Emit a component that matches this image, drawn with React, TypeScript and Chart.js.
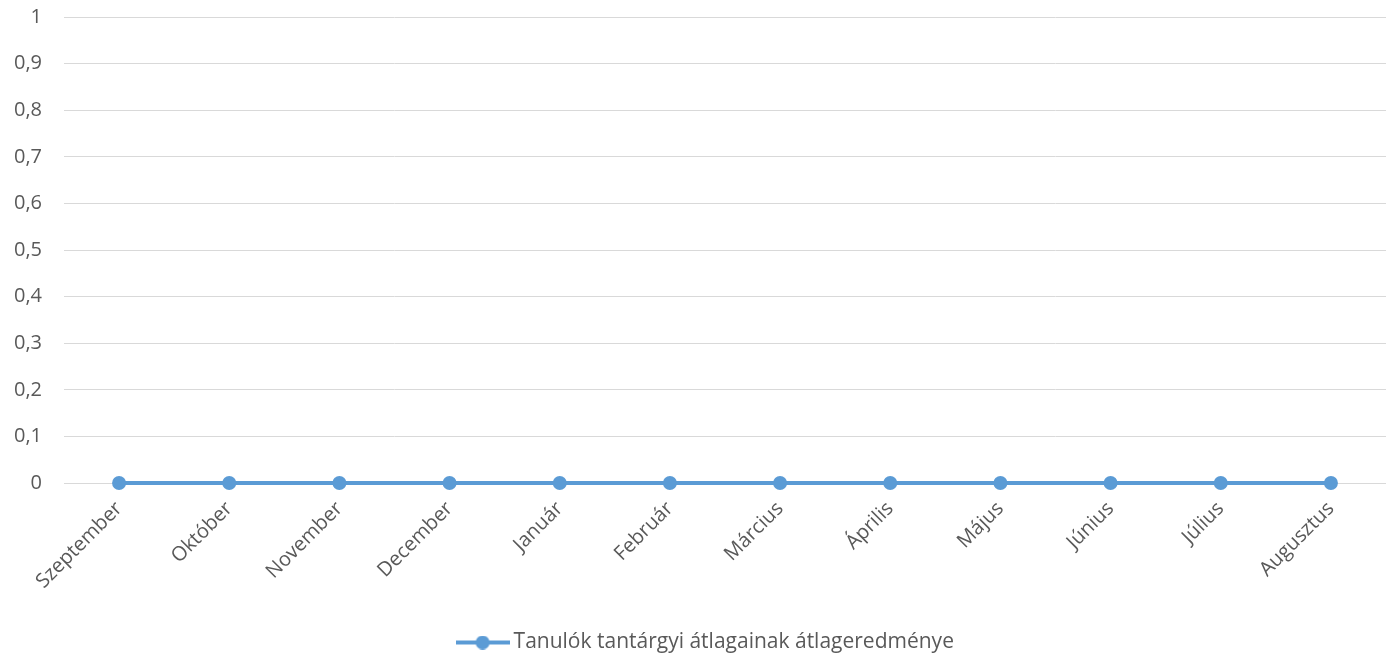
import React, { useEffect, useRef } from "react";
import { Chart, registerables } from "chart.js";

Chart.register(...registerables);

const months = [
  "Szeptember",
  "Október",
  "November",
  "December",
  "Január",
  "Február",
  "Március",
  "Április",
  "Május",
  "Június",
  "Július",
  "Augusztus",
];
const averages = [0, 0, 0, 0, 0, 0, 0, 0, 0, 0, 0, 0];
const seriesName = "Tanulók tantárgyi átlagainak átlageredménye";
const yMin = 0;
const yMax = 1;
const yStep = 0.1;

const LINE_COLOR = "#5B9BD5";
const TEXT_COLOR = "#595959";
const GRID_COLOR = "#D9D9D9";
const FONT = "Open Sans";
const FONT_SIZE = 20;
const LEGEND_FONT_SIZE = 21;

const ICON_BOX = 41;
const ICON_W = 54;

function makeLegendIcon(): HTMLCanvasElement {
  const c = document.createElement("canvas");
  c.width = ICON_W;
  c.height = 14;
  const ctx = c.getContext("2d")!;
  ctx.strokeStyle = LINE_COLOR;
  ctx.lineWidth = 4;
  ctx.beginPath();
  ctx.moveTo(0, 7);
  ctx.lineTo(ICON_W, 7);
  ctx.stroke();
  ctx.fillStyle = LINE_COLOR;
  ctx.beginPath();
  ctx.arc(ICON_W / 2, 7, 7, 0, Math.PI * 2);
  ctx.fill();
  return c;
}

const legendShift = {
  id: "legendShift",
  afterLayout(chart: any) {
    const l = chart.legend;
    if (l) {
      l.left += 15;
      l.right += 15;
    }
  },
};

export default function App() {
  const canvasRef = useRef<HTMLCanvasElement | null>(null);

  useEffect(() => {
    document.body.style.margin = "0";
    const canvas = canvasRef.current;
    if (!canvas) return;
    const icon = makeLegendIcon();
    const zeroPad = (scale: any) => {
      scale.paddingTop = 0;
      scale.paddingBottom = 0;
      scale.paddingLeft = 0;
      scale.paddingRight = 0;
    };
    const chart = new Chart(canvas, {
      type: "line",
      data: {
        labels: months,
        datasets: [
          {
            label: seriesName,
            data: averages,
            borderColor: LINE_COLOR,
            backgroundColor: LINE_COLOR,
            borderWidth: 4,
            pointRadius: 7,
            pointHoverRadius: 7,
            pointBackgroundColor: LINE_COLOR,
            pointBorderWidth: 0,
            pointStyle: "circle",
            tension: 0,
            clip: false,
          },
        ],
      },
      plugins: [legendShift],
      options: {
        animation: false,
        responsive: false,
        maintainAspectRatio: false,
        layout: { padding: { top: 17, right: 8, bottom: -6, left: 0 } },
        plugins: {
          tooltip: { enabled: false },
          legend: {
            position: "bottom",
            labels: {
              usePointStyle: true,
              pointStyle: icon as any,
              pointStyleWidth: ICON_BOX,
              boxHeight: 14,
              color: TEXT_COLOR,
              font: { family: FONT, size: LEGEND_FONT_SIZE },
              padding: 6,
            },
          },
        },
        scales: {
          x: {
            type: "category",
            offset: true,
            grid: { display: false, drawTicks: false },
            border: { display: false },
            ticks: {
              color: TEXT_COLOR,
              font: { family: FONT, size: FONT_SIZE },
              maxRotation: 45,
              minRotation: 45,
              autoSkip: false,
              padding: 14,
            },
            afterFit: (scale: any) => {
              scale.height = 143;
              zeroPad(scale);
            },
          },
          y: {
            min: yMin,
            max: yMax,
            grid: { color: GRID_COLOR, lineWidth: 1, drawTicks: false },
            border: { display: false },
            ticks: {
              stepSize: yStep,
              color: TEXT_COLOR,
              font: { family: FONT, size: FONT_SIZE },
              padding: 22,
              callback: (v: any) => Number(Number(v).toFixed(1)).toString().replace(".", ","),
            },
            afterFit: (scale: any) => {
              scale.width = 64;
              zeroPad(scale);
            },
          },
        },
      },
    });
    return () => chart.destroy();
  }, []);

  return (
    <div style={{ width: 1394, height: 657 }}>
      <canvas ref={canvasRef} width={1394} height={657} />
    </div>
  );
}
